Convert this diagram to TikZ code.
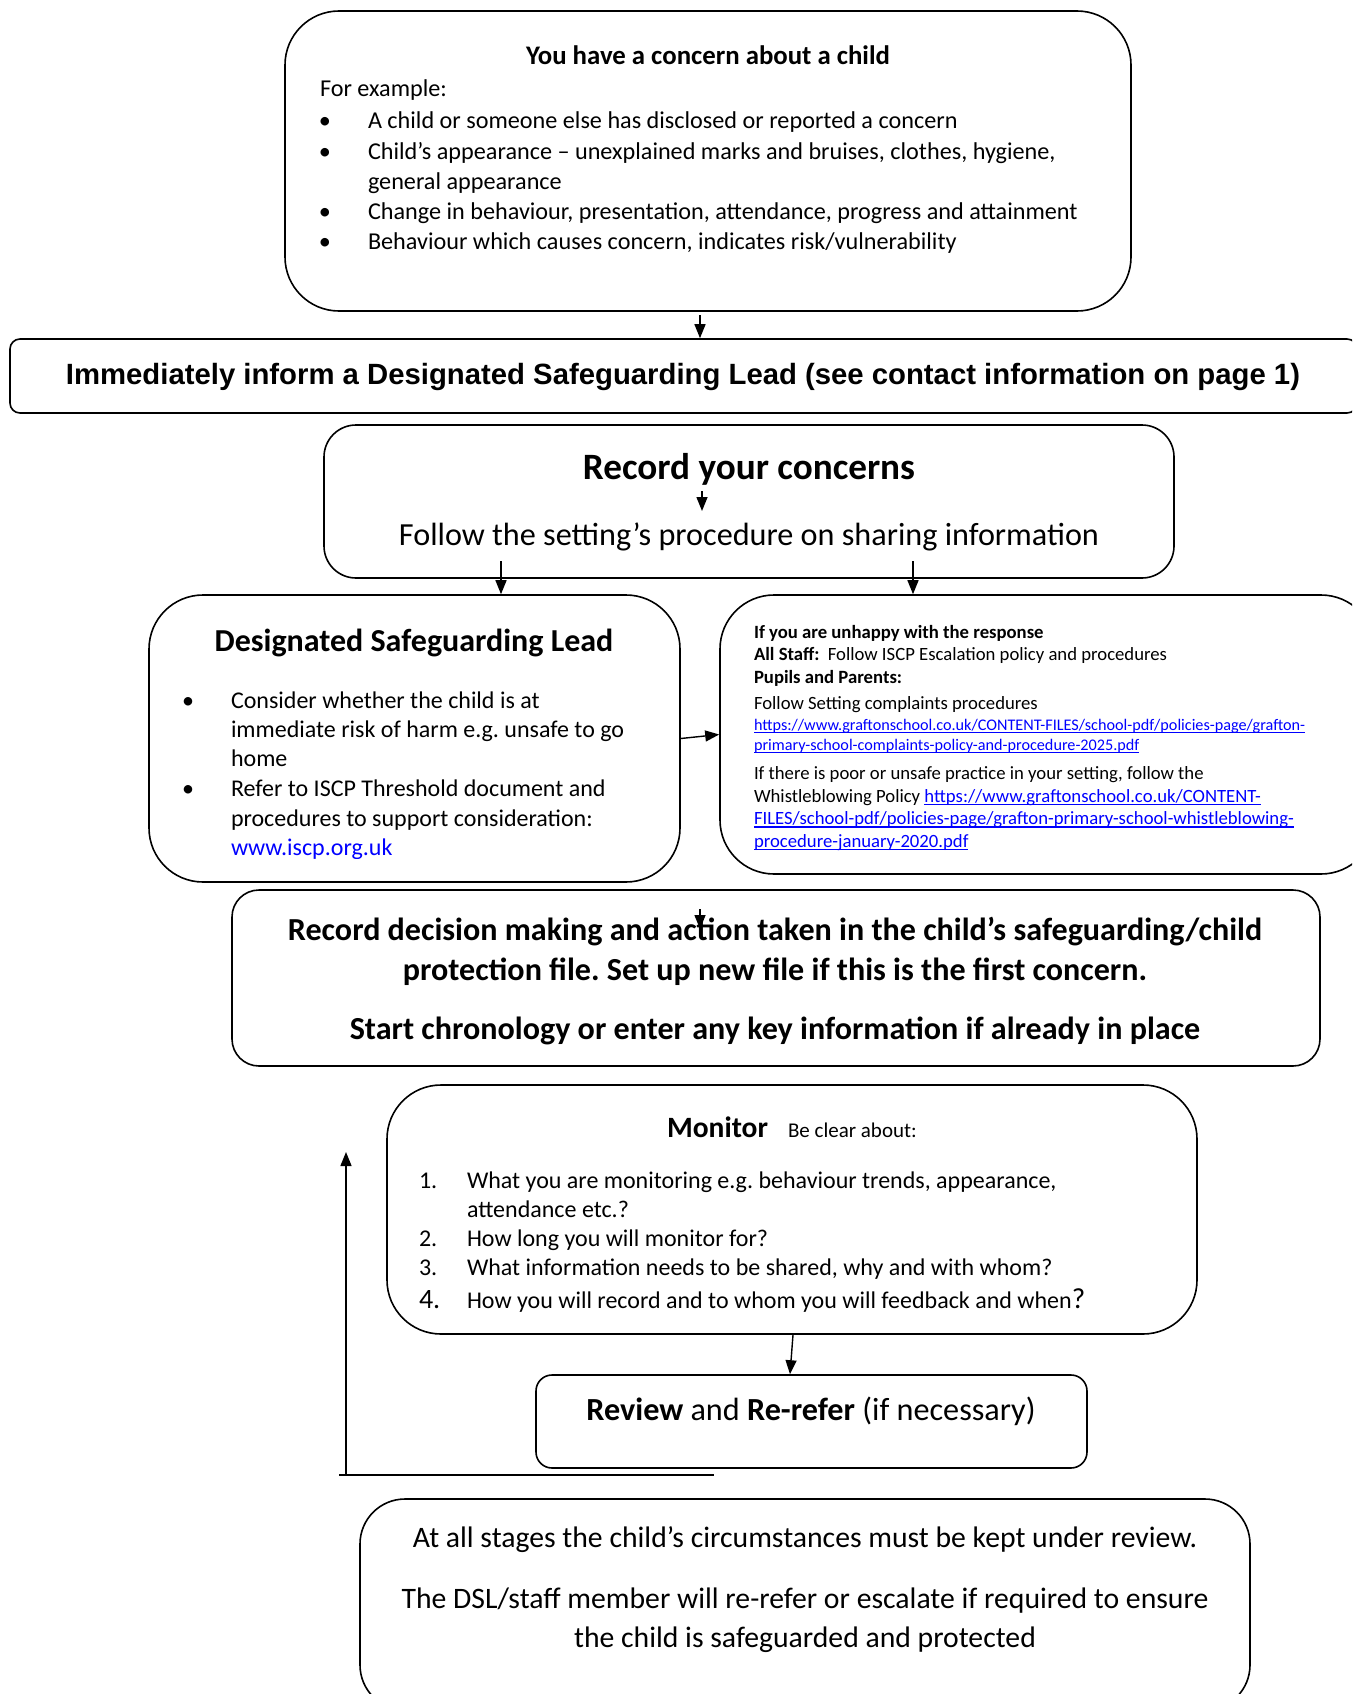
\documentclass[tikz,border=0pt]{standalone}
\usepackage{fontspec}
\setmainfont{Carlito}
\newfontfamily\arialf{Liberation Sans}
\usetikzlibrary{arrows.meta}
\definecolor{linkblue}{RGB}{0,0,255}
\newcommand\myfs[2]{\fontsize{#1pt}{#2pt}\selectfont}
\newsavebox\ulbox
\newcommand\ulk[2]{\sbox\ulbox{#2}\rlap{\usebox\ulbox}\rule[-#1]{\wd\ulbox}{1.1pt}}
\frenchspacing
\begin{document}
\begin{tikzpicture}[x=1pt,y=-1pt,
  box/.style={draw,line width=1.6pt,inner sep=0pt},
  lt/.style={anchor=base west,inner sep=0pt,outer sep=0pt},
  ct/.style={anchor=base,inner sep=0pt,outer sep=0pt},
  arr/.style={line width=1.4pt,-{Triangle[length=14pt,width=11pt]}},
  ln/.style={line width=1.4pt},
  lnk/.style={text=linkblue}]
\useasboundingbox (0,0) rectangle (1352,1694);
\clip (0,0) rectangle (1352,1694);

% ---------- boxes ----------
\node[box,rounded corners=54pt,minimum width=846pt,minimum height=300pt] (b1) at (708,161) {};
\node[box,rounded corners=10pt,minimum width=1347pt,minimum height=74pt] (b2) at (683.5,376) {};
\node[box,rounded corners=32pt,minimum width=850pt,minimum height=153pt] (b3) at (749,501.5) {};
\node[box,rounded corners=54pt,minimum width=531pt,minimum height=287pt] (dsl) at (414.5,738.5) {};
\node[box,rounded corners=54pt,minimum width=655pt,minimum height=279pt] (un) at (1047.5,734.5) {};
\node[box,rounded corners=27pt,minimum width=1088pt,minimum height=176pt] (rec) at (776,978) {};
\node[box,rounded corners=54pt,minimum width=810pt,minimum height=249pt] (mon) at (792,1209.5) {};
\node[box,rounded corners=16pt,minimum width=551pt,minimum height=93pt] (rev) at (811.5,1421.5) {};
\node[box,rounded corners=45pt,minimum width=890pt,minimum height=211pt] (bot) at (805,1604.5) {};

% ---------- box 1 ----------
\node[ct,font=\myfs{26.8}{32}\bfseries] (t1) at (708,64) {You have a concern about a child};
\node[lt,font=\myfs{24.2}{29}] (t1a) at (320,96) {For example:};
\node[ct,font=\myfs{24.2}{29}] (t1p1) at (325,128.5) {•};
\node[lt,font=\myfs{24.2}{29}] (t1b1) at (368,128.5) {A child or someone else has disclosed or reported a concern};
\node[ct,font=\myfs{24.2}{29}] (t1p2) at (325,159.5) {•};
\node[lt,font=\myfs{24.2}{29}] (t1b2) at (368,159.5) {Child’s appearance – unexplained marks and bruises, clothes, hygiene,};
\node[lt,font=\myfs{24.2}{29}] (t1b2b) at (368,189) {general appearance};
\node[ct,font=\myfs{24.2}{29}] (t1p3) at (325,219) {•};
\node[lt,font=\myfs{24.2}{29}] (t1b3) at (368,219) {Change in behaviour, presentation, attendance, progress and attainment};
\node[ct,font=\myfs{24.2}{29}] (t1p4) at (325,249) {•};
\node[lt,font=\myfs{24.2}{29}] (t1b4) at (368,249) {Behaviour which causes concern, indicates risk/vulnerability};

% ---------- box 2 ----------
\node[ct,font=\arialf\bfseries\myfs{29.3}{35}] (t2) at (683,384.5) {Immediately inform a Designated Safeguarding Lead (see contact information on page 1)};

% ---------- box 3 ----------
\node[ct,font=\myfs{37.2}{44}\bfseries] (t3a) at (749,479) {Record your concerns};
\node[ct,font=\myfs{32.2}{39}] (t3b) at (749,545) {Follow the setting’s procedure on sharing information};

% ---------- DSL ----------
\node[ct,font=\myfs{32}{39}\bfseries] (t4) at (414,651) {Designated Safeguarding Lead};
\node[ct,font=\myfs{24}{29}] (t4p1) at (188,708) {•};
\node[lt,font=\myfs{24}{29}] (t4a) at (231,708) {Consider whether the child is at};
\node[lt,font=\myfs{24}{29}] (t4b) at (231,737) {immediate risk of harm e.g. unsafe to go};
\node[lt,font=\myfs{24}{29}] (t4c) at (231,766) {home};
\node[ct,font=\myfs{24}{29}] (t4p2) at (188,796) {•};
\node[lt,font=\myfs{24}{29}] (t4d) at (231,796) {Refer to ISCP Threshold document and};
\node[lt,font=\myfs{24}{29}] (t4e) at (231,826) {procedures to support consideration:};
\begin{scope}
\clip (225,830) rectangle (420,858);
\node[lt,lnk,font=\myfs{24}{29}] (t4f) at (231,855) {www.iscp.org.uk};
\end{scope}

% ---------- unhappy ----------
\node[lt,font=\myfs{18.7}{22}\bfseries] (t5a) at (754,638) {If you are unhappy with the response};
\node[lt,font=\myfs{18.7}{22}] (t5b) at (754,660) {\textbf{All Staff:}\ \ Follow ISCP Escalation policy and procedures};
\node[lt,font=\myfs{18.7}{22}\bfseries] (t5c) at (754,683) {Pupils and Parents:};
\node[lt,font=\myfs{18.7}{22}] (t5d) at (754,709) {Follow Setting complaints procedures};
\node[lt,lnk,font=\myfs{16.2}{19}] (t5e) at (754,730.5) {\ulk{2.6pt}{https://www.graftonschool.co.uk/CONTENT-FILES/school-pdf/policies-page/grafton-}};
\node[lt,lnk,font=\myfs{16.2}{19}] (t5f) at (754,750.5) {\ulk{2.6pt}{primary-school-complaints-policy-and-procedure-2025.pdf}};
\node[lt,font=\myfs{18.7}{22}] (t5g) at (754,779) {If there is poor or unsafe practice in your setting, follow the};
\node[lt,font=\myfs{18.7}{22}] (t5h) at (754,802) {Whistleblowing Policy \textcolor{linkblue}{\ulk{3pt}{https://www.graftonschool.co.uk/CONTENT-}}};
\node[lt,lnk,font=\myfs{18.7}{22}] (t5i) at (754,824.5) {\ulk{3pt}{FILES/school-pdf/policies-page/grafton-primary-school-whistleblowing-}};
\node[lt,lnk,font=\myfs{18.7}{22}] (t5j) at (754,847) {\ulk{3pt}{procedure-january-2020.pdf}};

% ---------- record decision ----------
\node[ct,font=\myfs{32.1}{39}\bfseries] (t6a) at (775,940.5) {Record decision making and action taken in the child’s safeguarding/child};
\node[ct,font=\myfs{32.1}{39}\bfseries] (t6b) at (775,980.5) {protection file. Set up new file if this is the first concern.};
\node[ct,font=\myfs{32.1}{39}\bfseries] (t6c) at (775,1039.5) {Start chronology or enter any key information if already in place};

% ---------- monitor ----------
\node[lt,font=\myfs{29.5}{35}\bfseries] (t7) at (667,1137.5) {Monitor};
\node[lt,font=\myfs{21}{25}] (t7b) at (788,1137.5) {Be clear about:};
\node[lt,font=\myfs{24}{29}] (t7n1) at (419,1188) {1.};
\node[lt,font=\myfs{24}{29}] (t7i1) at (467,1188) {What you are monitoring e.g. behaviour trends, appearance,};
\node[lt,font=\myfs{24}{29}] (t7i1b) at (467,1217) {attendance etc.?};
\node[lt,font=\myfs{24}{29}] (t7n2) at (419,1246) {2.};
\node[lt,font=\myfs{24}{29}] (t7i2) at (467,1246) {How long you will monitor for?};
\node[lt,font=\myfs{24}{29}] (t7n3) at (419,1275.5) {3.};
\node[lt,font=\myfs{24}{29}] (t7i3) at (467,1275.5) {What information needs to be shared, why and with whom?};
\node[lt,font=\myfs{28}{34}] (t7n4) at (419,1308.5) {4.};
\begin{scope}
\clip (460,1270) rectangle (1150,1311);
\node[lt,font=\myfs{24}{29}] (t7i4) at (467,1308.5) {How you will record and to whom you will feedback and when{\myfs{29}{34}?}};
\end{scope}

% ---------- review ----------
\node[ct,font=\myfs{32.2}{38}] (t8) at (811,1420) {\textbf{Review} and \textbf{Re-refer} (if necessary)};

% ---------- bottom ----------
\node[ct,font=\myfs{29.7}{36}] (t9a) at (805,1547) {At all stages the child’s circumstances must be kept under review.};
\node[ct,font=\myfs{29.7}{36}] (t9b) at (805,1608) {The DSL/staff member will re-refer or escalate if required to ensure};
\node[ct,font=\myfs{29.7}{36}] (t9c) at (805,1647) {the child is safeguarded and protected};

% ---------- connectors ----------
\coordinate (a1s) at (700,315);
\draw[arr] (a1s) -- (a1s |- b2.north);
\coordinate (a2s) at (702,491);
\coordinate (a2e) at (702,511);
\draw[arr] (a2s) -- (a2e);
\coordinate (a3s) at (501,561);
\draw[arr] (a3s) -- (a3s |- dsl.north);
\coordinate (a4s) at (913,561);
\draw[arr] (a4s) -- (a4s |- un.north);
\draw[arr] (dsl.east) -- (un.west);
\coordinate (a5s) at (700,909);
\coordinate (a5e) at (700,929);
\draw[arr] (a5s) -- (a5e);
\coordinate (a6s) at (793,1300);
\coordinate (a6e) at (790,1400);
\draw[arr] (a6s |- mon.south) -- (a6e |- rev.north);
\coordinate (fbL) at (339,1475);
\coordinate (fbR) at (714,1475);
\coordinate (fbB) at (346,1475);
\coordinate (fbT) at (346,1152);
\draw[ln] (fbL) -- (fbR);
\draw[arr] (fbB) -- (fbT);
\end{tikzpicture}
\end{document}
